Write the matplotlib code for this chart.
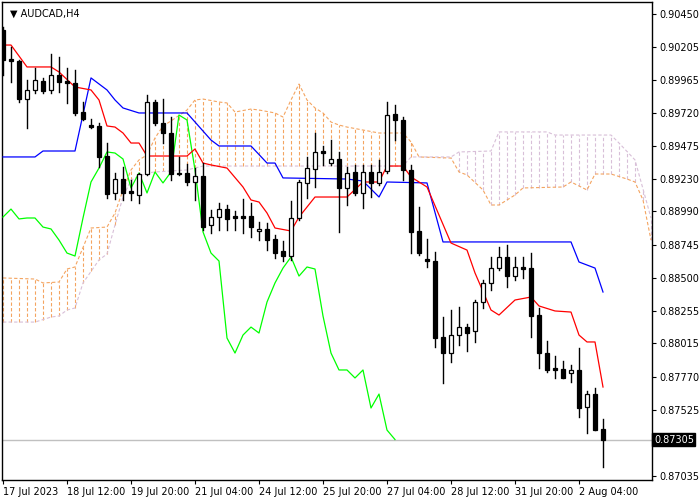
import numpy as np
import matplotlib
matplotlib.use("Agg")
import matplotlib.pyplot as plt

# H4 candles, one per bar
opens = [0.90331, 0.90117, 0.90102, 0.89821, 0.89888, 0.89954, 0.89888, 0.89999, 0.89954, 0.89940,
         0.89725, 0.89629, 0.89622, 0.89400, 0.89127, 0.89230, 0.89142, 0.89112, 0.89267, 0.89799,
         0.89644, 0.89570, 0.89275, 0.89275, 0.89208, 0.89252, 0.88890, 0.88949, 0.89008, 0.88957,
         0.88957, 0.88957, 0.88846, 0.88861, 0.88787, 0.88698, 0.88661, 0.88942, 0.89201, 0.89304,
         0.89437, 0.89348, 0.89378, 0.89164, 0.89282, 0.89127, 0.89282, 0.89201, 0.89289, 0.89711,
         0.89666, 0.89297, 0.88846, 0.88639, 0.88624, 0.88063, 0.87944, 0.88077, 0.88136, 0.88107,
         0.88321, 0.88462, 0.88572, 0.88654, 0.88513, 0.88580, 0.88572, 0.88225, 0.87944, 0.87833,
         0.87826, 0.87797, 0.87819, 0.87545, 0.87641, 0.87383]
closes = [0.90110, 0.90102, 0.89821, 0.89888, 0.89962, 0.89881, 0.89999, 0.89947, 0.89940, 0.89718,
          0.89674, 0.89614, 0.89393, 0.89119, 0.89230, 0.89127, 0.89127, 0.89267, 0.89799, 0.89644,
          0.89570, 0.89267, 0.89267, 0.89208, 0.89252, 0.88875, 0.88949, 0.89008, 0.88935, 0.88942,
          0.88942, 0.88875, 0.88861, 0.88779, 0.88683, 0.88661, 0.88942, 0.89208, 0.89311, 0.89430,
          0.89422, 0.89378, 0.89164, 0.89275, 0.89127, 0.89282, 0.89201, 0.89282, 0.89703, 0.89666,
          0.89297, 0.88839, 0.88683, 0.88624, 0.88055, 0.87944, 0.88077, 0.88136, 0.88092, 0.88321,
          0.88462, 0.88572, 0.88654, 0.88513, 0.88580, 0.88565, 0.88218, 0.87944, 0.87819, 0.87819,
          0.87760, 0.87819, 0.87538, 0.87641, 0.87375, 0.87305]
highs = [0.90353, 0.90206, 0.90110, 0.89962, 0.90050, 0.89977, 0.90154, 0.90132, 0.90050, 0.90036,
         0.89799, 0.89674, 0.89644, 0.89496, 0.89275, 0.89319, 0.89223, 0.89275, 0.89851, 0.89814,
         0.89821, 0.89688, 0.89393, 0.89341, 0.89311, 0.89348, 0.89001, 0.89053, 0.89038, 0.88994,
         0.89082, 0.89053, 0.88912, 0.88905, 0.88816, 0.88772, 0.89068, 0.89223, 0.89393, 0.89570,
         0.89474, 0.89518, 0.89430, 0.89319, 0.89334, 0.89334, 0.89334, 0.89371, 0.89799, 0.89777,
         0.89688, 0.89334, 0.89023, 0.88787, 0.88691, 0.88210, 0.88262, 0.88284, 0.88159, 0.88336,
         0.88484, 0.88654, 0.88728, 0.88742, 0.88654, 0.88654, 0.88683, 0.88277, 0.88033, 0.87922,
         0.87885, 0.87856, 0.87981, 0.87664, 0.87686, 0.87457]
lows = [0.89999, 0.89947, 0.89799, 0.89607, 0.89866, 0.89866, 0.89866, 0.89873, 0.89792, 0.89703,
        0.89666, 0.89610, 0.89319, 0.89090, 0.89082, 0.89075, 0.89075, 0.89053, 0.89260, 0.89629,
        0.89496, 0.89223, 0.89260, 0.89186, 0.89075, 0.88853, 0.88831, 0.88853, 0.88853, 0.88853,
        0.88831, 0.88802, 0.88779, 0.88705, 0.88646, 0.88624, 0.88632, 0.88927, 0.89090, 0.89171,
        0.89334, 0.89334, 0.88839, 0.89038, 0.89112, 0.89016, 0.89097, 0.89186, 0.89275, 0.89518,
        0.89223, 0.88683, 0.88669, 0.88580, 0.87989, 0.87723, 0.87878, 0.88003, 0.87959, 0.88026,
        0.88277, 0.88410, 0.88558, 0.88432, 0.88484, 0.88499, 0.88063, 0.87833, 0.87804, 0.87760,
        0.87760, 0.87730, 0.87471, 0.87353, 0.87375, 0.87102]

# Ichimoku lines, vertices (bar index, price)
tenkan_idx = [0, 1, 3, 6, 7, 9, 11, 12, 13, 14, 15, 16, 17, 18, 23, 24, 25, 26, 28, 30, 31, 32, 33, 34,
              36, 37, 39, 43, 45, 47, 48, 50, 51, 53, 56, 58, 59, 61, 62, 64, 66, 67, 69, 71, 72, 73, 74, 75]
tenkan = [0.90220, 0.90220, 0.90058, 0.90058, 0.90021, 0.89910, 0.89888, 0.89814, 0.89622, 0.89614,
          0.89570, 0.89496, 0.89496, 0.89400, 0.89400, 0.89452, 0.89348, 0.89334, 0.89311, 0.89171,
          0.89075, 0.89060, 0.88979, 0.88868, 0.88846, 0.88949, 0.89097, 0.89097, 0.89208, 0.89208,
          0.89326, 0.89326, 0.89245, 0.89171, 0.88757, 0.88705, 0.88536, 0.88262, 0.88225, 0.88336,
          0.88358, 0.88292, 0.88255, 0.88247, 0.88077, 0.88026, 0.88026, 0.87693]
kijun_idx = [0, 4, 5, 9, 11, 13, 14, 15, 17, 23, 26, 27, 31, 33, 34, 35, 43, 45, 47, 48, 53, 55, 71, 72, 74, 75]
kijun = [0.89393, 0.89393, 0.89437, 0.89437, 0.89977, 0.89888, 0.89814, 0.89755, 0.89718, 0.89718,
         0.89518, 0.89474, 0.89474, 0.89348, 0.89348, 0.89238, 0.89230, 0.89215, 0.89097, 0.89208,
         0.89201, 0.88765, 0.88765, 0.88617, 0.88572, 0.88395]
span_a_idx = [0, 4, 5, 7, 8, 9, 11, 13, 14, 15, 16, 17, 18, 19, 20, 21, 23, 24, 25, 27, 28, 29, 31, 32,
              34, 35, 36, 37, 38, 39, 40, 41, 42, 43, 47, 50, 51, 52, 56, 57, 58, 60, 61, 62, 63, 64,
              65, 70, 71, 73, 74, 76, 78, 79, 80, 81]
span_a = [0.88499, 0.88491, 0.88462, 0.88469, 0.88565, 0.88580, 0.88868, 0.88875, 0.88979, 0.89149,
          0.89297, 0.89371, 0.89408, 0.89533, 0.89622, 0.89659, 0.89740, 0.89814, 0.89821, 0.89799,
          0.89792, 0.89725, 0.89747, 0.89740, 0.89718, 0.89688, 0.89814, 0.89932, 0.89814, 0.89755,
          0.89718, 0.89651, 0.89629, 0.89614, 0.89570, 0.89570, 0.89504, 0.89393, 0.89385, 0.89282,
          0.89260, 0.89149, 0.89038, 0.89038, 0.89075, 0.89112, 0.89164, 0.89171, 0.89208, 0.89149,
          0.89267, 0.89267, 0.89230, 0.89208, 0.89075, 0.88779]
span_b_idx = [0, 4, 6, 7, 8, 9, 10, 12, 13, 14, 15, 16, 18, 19, 23, 25, 50, 51, 56, 57, 61, 62, 68, 69,
              76, 77, 79, 81]
span_b = [0.88173, 0.88173, 0.88210, 0.88218, 0.88262, 0.88277, 0.88462, 0.88632, 0.88676, 0.88890,
          0.89097, 0.89223, 0.89275, 0.89282, 0.89297, 0.89326, 0.89326, 0.89393, 0.89393, 0.89430,
          0.89437, 0.89578, 0.89578, 0.89555, 0.89555, 0.89496, 0.89371, 0.88942]

date_labels = ["17 Jul 2023", "18 Jul 12:00", "19 Jul 20:00", "21 Jul 04:00", "24 Jul 12:00",
               "25 Jul 20:00", "27 Jul 04:00", "28 Jul 12:00", "31 Jul 20:00", "2 Aug 04:00"]
price_ticks = [0.90450, 0.90205, 0.89965, 0.89720, 0.89475, 0.89230, 0.88990, 0.88745,
               0.88500, 0.88255, 0.88015, 0.87770, 0.87525, 0.87035]
last_price = 0.87305

SHIFT = 26

fig = plt.figure(figsize=(7, 5), dpi=100)
ax = fig.add_axes([2 / 700, 20 / 500, 650 / 700, 478 / 500])
n = len(closes)
x = np.arange(n)

# cloud hatching: one dashed vertical per bar, colour of the upper span
hx = np.arange(0, 82)
a_full = np.interp(hx, span_a_idx, span_a)
b_full = np.interp(hx, span_b_idx, span_b)
for i, a, b in zip(hx, a_full, b_full):
    col = "#f4a460" if a >= b else "#d8bfd8"
    ax.plot([i, i], [min(a, b), max(a, b)], color=col, lw=0.8, ls=(0, (3, 2)), zorder=1)
ax.plot(span_a_idx, span_a, color="#f4a460", lw=0.8, ls=(0, (3, 2)), zorder=2)
ax.plot(span_b_idx, span_b, color="#d8bfd8", lw=0.8, ls=(0, (3, 2)), zorder=2)

ax.axhline(last_price, color="#c0c0c0", lw=1, zorder=1)

# chikou: close shifted back
ax.plot(x[:n - SHIFT], closes[SHIFT:], color="#00ff00", lw=0.9, zorder=3)
ax.plot(kijun_idx, kijun, color="#0000ff", lw=0.9, zorder=3)
ax.plot(tenkan_idx, tenkan, color="#ff0000", lw=0.9, zorder=3)

for i in range(n):
    o, c, h, l = opens[i], closes[i], highs[i], lows[i]
    ax.plot([i, i], [l, h], color="black", lw=1, zorder=4)
    if abs(c - o) < 0.00004:
        ax.plot([i - 0.3, i + 0.3], [c, c], color="black", lw=1.5, zorder=5)
    else:
        face = "white" if c > o else "black"
        ax.bar(i, abs(c - o), bottom=min(o, c), width=0.6, color=face,
               edgecolor="black", linewidth=0.9, zorder=5)

ax.set_xlim(-0.125, 81.125)
ax.set_ylim(0.87006, 0.90538)

ax.yaxis.tick_right()
ax.set_yticks(price_ticks)
ax.set_yticklabels([f"{p:.5f}" for p in price_ticks])
ax.set_xticks(np.arange(0, 8 * len(date_labels), 8))
ax.set_xticklabels(date_labels, ha="left")
ax.tick_params(axis="both", labelsize=7, length=3, width=0.8, pad=2, colors="black")
for lab in ax.get_xticklabels():
    lab.set_x(0)
for sp in ax.spines.values():
    sp.set_linewidth(1)

ax.text(1.003, last_price, f"{last_price:.5f}", transform=ax.get_yaxis_transform(),
        fontsize=7, color="white", va="center", ha="left",
        bbox=dict(boxstyle="square,pad=0.15", fc="black", ec="black"))
ax.text(0.012, 0.985, "\u25bc AUDCAD,H4", transform=ax.transAxes, fontsize=7,
        va="top", ha="left", color="black")

fig.savefig("out.png", dpi=100)
